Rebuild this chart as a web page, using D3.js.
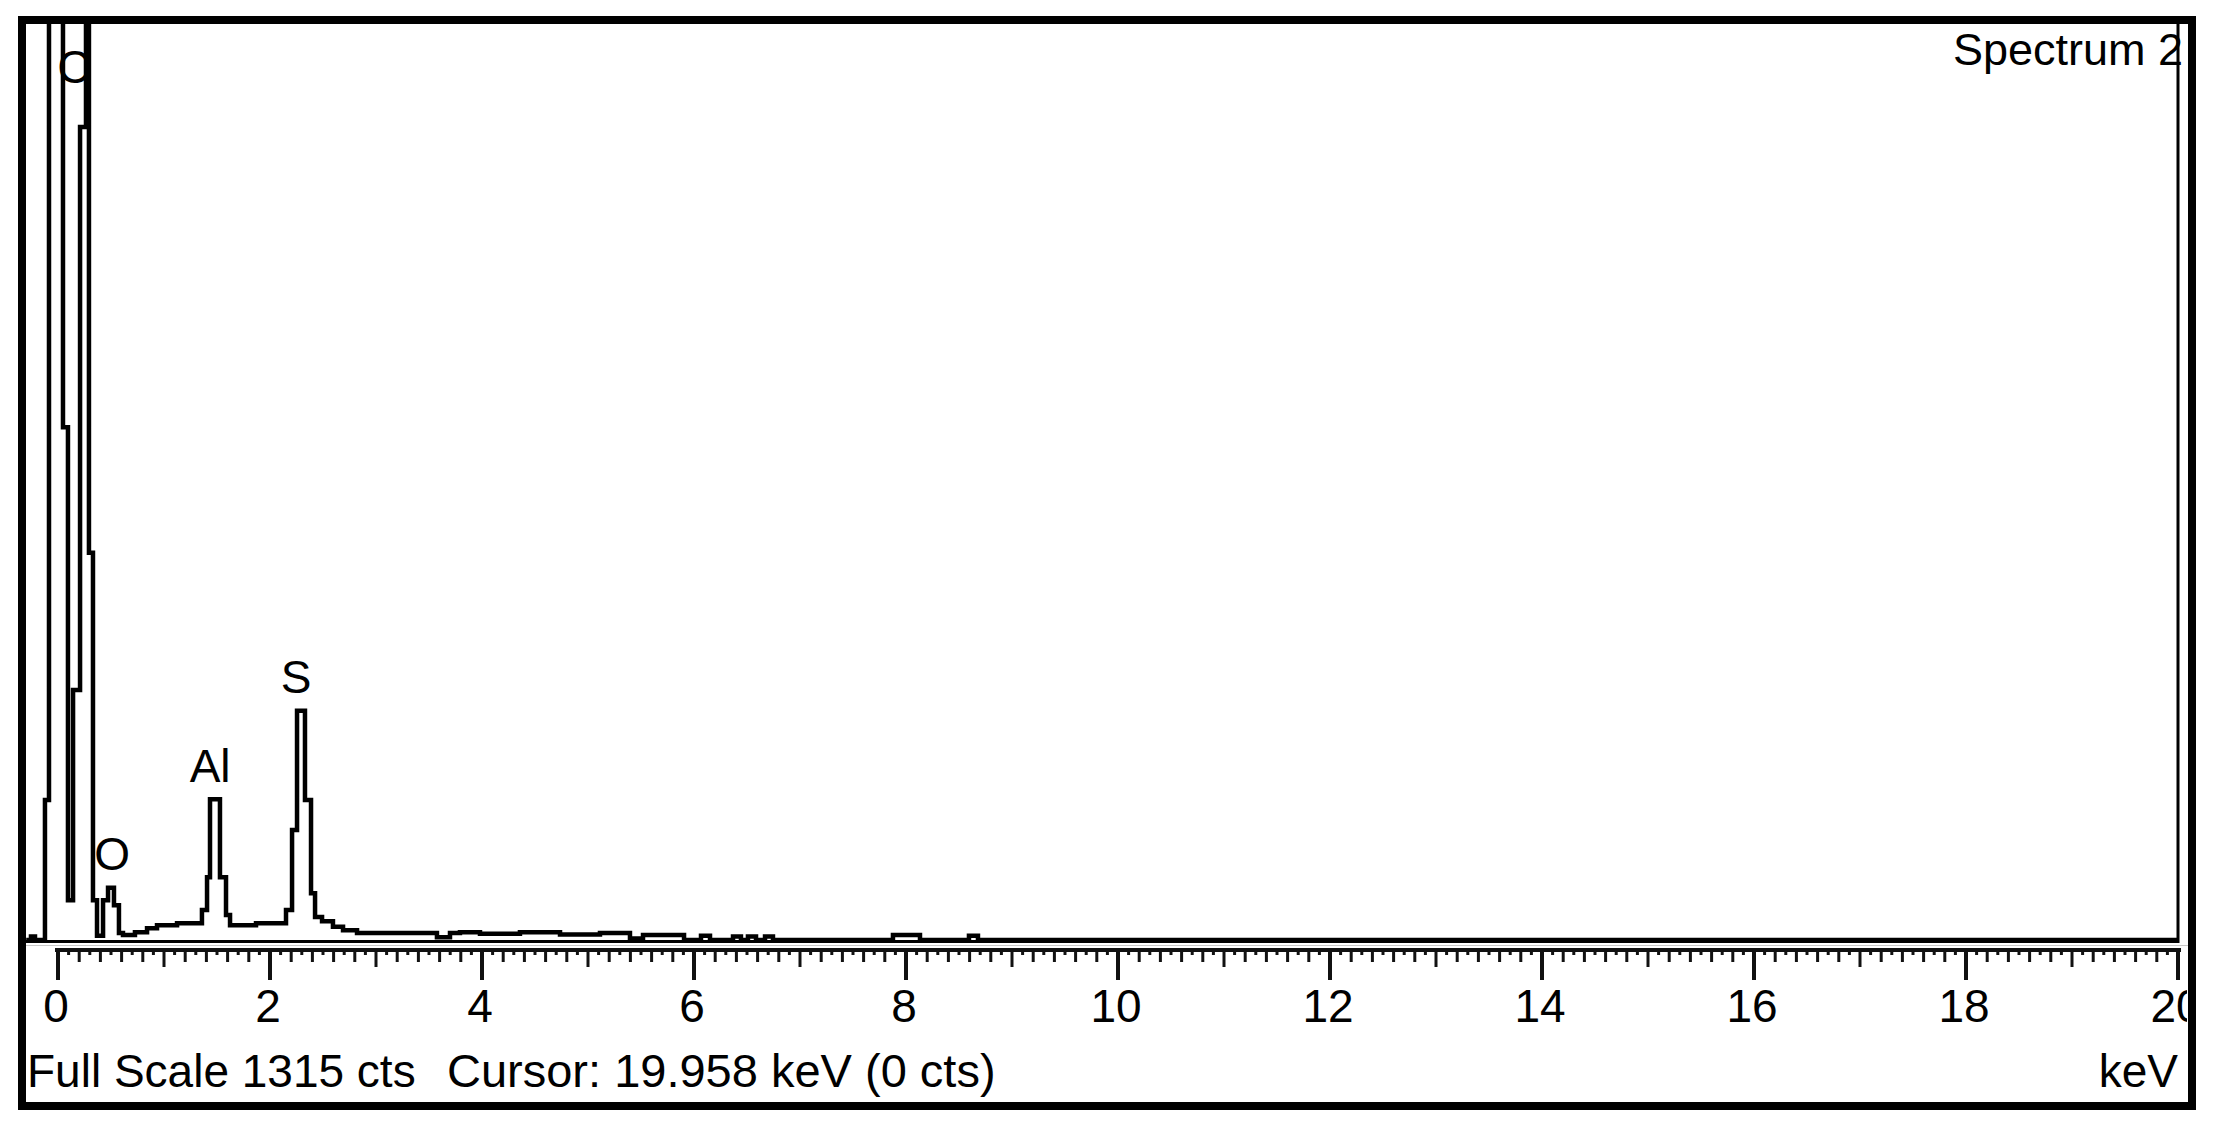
<!DOCTYPE html>
<html>
<head>
<meta charset="utf-8">
<script src="https://cdn.jsdelivr.net/npm/d3@7"></script>
<style>
  html, body { margin: 0; padding: 0; background: #fff; }
  svg { display: block; }
  text { font-family: "Liberation Sans", Arial, sans-serif; fill: #000; }
</style>
</head>
<body>
<svg id="chart" width="2218" height="1132"></svg>
<script>
// ---- data (channel start energy in keV, counts; step trace) ----
const energy = [-0.30, -0.255, -0.217, -0.123, -0.085, 0.047, 0.094, 0.142, 0.208, 0.264,
  0.292, 0.330, 0.368, 0.425, 0.472, 0.528, 0.575, 0.613, 0.726, 0.840,
  0.934, 1.123, 1.358, 1.406, 1.434, 1.528, 1.585, 1.623, 1.868, 2.151,
  2.208, 2.255, 2.330, 2.387, 2.425, 2.491, 2.594, 2.689, 2.821, 3.575,
  3.698, 3.792, 3.981, 4.358, 4.736, 5.113, 5.396, 5.519, 5.906, 6.066,
  6.151, 6.368, 6.443, 6.509, 6.585, 6.670, 6.745, 7.877, 8.132, 8.594,
  8.679, 20.2];
const counts = [0, 5, 0, 201, 3000, 736, 57, 359, 1167, 3000,
  556, 57, 6, 57, 75, 50, 10, 7, 11, 17,
  21, 24, 43, 90, 202, 90, 36, 21, 24, 43,
  158, 329, 201, 67, 33, 27, 19, 14, 10, 4,
  10, 11, 9, 11, 8, 10, 2, 7, 0, 6,
  0, 5, 0, 5, 0, 5, 0, 7, 0, 6,
  0, 0];

const peakLabels = ["C", "O", "Al", "S"];
const peakLabelEnergy = [0.15, 0.51, 1.435, 2.245];
const peakLabelCounts = [1230, 100, 227, 355];

const majorTicks = [0, 2, 4, 6, 8, 10, 12, 14, 16, 18, 20];
const tickLabels = ["0", "2", "4", "6", "8", "10", "12", "14", "16", "18", "20"];
const fullScale = 1315;
const titleText = "Spectrum 2";
const footerLeft = "Full Scale 1315 cts";
const footerCursor = "Cursor: 19.958 keV (0 cts)";
const unitText = "keV";

// ---- layout ----
const svg = d3.select("#chart");
const plot = { left: 26, right: 2178, top: 24, bottom: 940 };
const x = d3.scaleLinear().domain([0, 20]).range([58, 2178]);
const y = d3.scaleLinear().domain([0, fullScale]).range([plot.bottom, plot.top]);

svg.append("rect").attr("width", 2218).attr("height", 1132).attr("fill", "#fff");

const defs = svg.append("defs");
defs.append("clipPath").attr("id", "plotclip")
  .append("rect").attr("x", plot.left).attr("y", plot.top)
  .attr("width", plot.right - plot.left).attr("height", plot.bottom - plot.top + 4);
defs.append("clipPath").attr("id", "innerclip")
  .append("rect").attr("x", 26).attr("y", 24).attr("width", 2161).attr("height", 1078);

// peak labels (under trace)
svg.append("g").selectAll("text").data(peakLabels).join("text")
  .attr("x", (d, i) => x(peakLabelEnergy[i]))
  .attr("y", (d, i) => y(peakLabelCounts[i]))
  .attr("text-anchor", "middle")
  .attr("font-size", 46)
  .text(d => d);

// trace
const pts = energy.map((e, i) => [e, counts[i]]);
const line = d3.line().x(d => x(d[0])).y(d => y(d[1])).curve(d3.curveStepAfter);
svg.append("g").attr("clip-path", "url(#plotclip)")
  .append("path").attr("d", line(pts))
  .attr("fill", "none").attr("stroke", "#000").attr("stroke-width", 4.5)
  .attr("stroke-linejoin", "miter");

// plot bottom & right border
svg.append("line").attr("x1", plot.left).attr("x2", plot.right + 1)
  .attr("y1", plot.bottom + 1.5).attr("y2", plot.bottom + 1.5)
  .attr("stroke", "#000").attr("stroke-width", 3);
svg.append("line").attr("x1", plot.left).attr("x2", 2188)
  .attr("y1", 945.5).attr("y2", 945.5).attr("stroke", "#c8c8c8").attr("stroke-width", 1);

// ruler axis
const axisY = 950;
svg.append("line").attr("x1", x(0) - 3).attr("x2", x(20) + 3)
  .attr("y1", axisY).attr("y2", axisY).attr("stroke", "#111").attr("stroke-width", 4);
const allTicks = d3.range(0, 201).map(i => i / 10);
svg.append("g").selectAll("line").data(allTicks).join("line")
  .attr("x1", d => x(d)).attr("x2", d => x(d))
  .attr("y1", axisY)
  .attr("y2", (d, i) => i % 20 === 0 ? 980 : i % 10 === 0 ? 967 : i % 2 === 0 ? 962 : 955)
  .attr("stroke", "#111")
  .attr("stroke-width", (d, i) => i % 20 === 0 ? 4 : 3);

const txt = svg.append("g").attr("clip-path", "url(#innerclip)");
txt.selectAll("text.tick").data(majorTicks).join("text").attr("class", "tick")
  .attr("x", d => x(d) - 2).attr("y", 1022)
  .attr("text-anchor", "middle").attr("font-size", 46)
  .text((d, i) => tickLabels[i]);

// texts
txt.append("text").attr("x", 2183).attr("y", 65).attr("text-anchor", "end")
  .attr("font-size", 45).text(titleText);
txt.append("text").attr("x", 27).attr("y", 1087).attr("font-size", 46).text(footerLeft);
txt.append("text").attr("x", 447).attr("y", 1087).attr("font-size", 47).text(footerCursor);
txt.append("text").attr("x", 2178).attr("y", 1087).attr("text-anchor", "end")
  .attr("font-size", 46).text(unitText);

// right plot border (over title)
svg.append("line").attr("x1", plot.right).attr("x2", plot.right)
  .attr("y1", plot.top).attr("y2", plot.bottom + 3)
  .attr("stroke", "#000").attr("stroke-width", 3);

// outer frame
svg.append("rect").attr("x", 22).attr("y", 20).attr("width", 2170).attr("height", 1086)
  .attr("fill", "none").attr("stroke", "#000").attr("stroke-width", 8);
</script>
</body>
</html>
